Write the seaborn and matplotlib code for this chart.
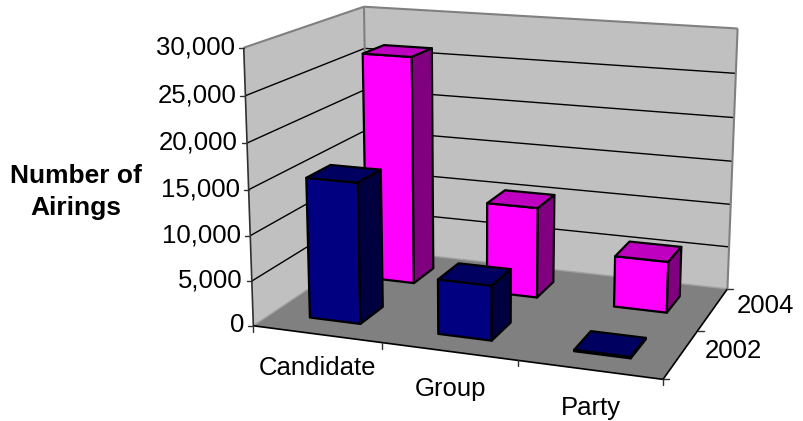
import numpy as np
import matplotlib
matplotlib.use("Agg")
import matplotlib.pyplot as plt
from matplotlib.patches import Polygon
import seaborn as sns

# Airings by sponsor type and election year
categories = ["Candidate", "Group", "Party"]
years = ["2002", "2004"]
airings_2002 = [15600, 6000, 150]
airings_2004 = [26400, 10400, 5800]
value_ticks = [0, 5000, 10000, 15000, 20000, 25000, 30000]
y_title = "Number of\nAirings"

VALUE_MAX = 30000
GAP = 1.5  # gap width and depth, as a multiple of the bar size

# Where the corners of the plot box land on the canvas (x, depth, height) -> (px, py)
box_corners = [
    ((0, 0, 0), (255, 324)),
    ((1, 0, 0), (663, 381)),
    ((0, 1, 0), (366, 251)),
    ((1, 1, 0), (728, 287)),
    ((0, 0, 1), (242, 48)),
    ((0, 1, 1), (366, 6)),
    ((1, 1, 1), (737, 29)),
]

# Extra drop of each category label below the floor edge
label_drop = [34, 38, 38]


def fit_camera(pairs):
    """Least-squares perspective camera from box corners to canvas pixels."""
    rows, rhs = [], []
    for (x, y, z), (u, v) in pairs:
        rows.append([x, y, z, 1, 0, 0, 0, 0, -u * x, -u * y, -u * z])
        rhs.append(u)
        rows.append([0, 0, 0, 0, x, y, z, 1, -v * x, -v * y, -v * z])
        rhs.append(v)
    sol = np.linalg.lstsq(np.array(rows, float), np.array(rhs, float), rcond=None)[0]
    return np.append(sol, 1.0).reshape(3, 4)


CAMERA = fit_camera(box_corners)


def project(x, y, z):
    """Map box coordinates to canvas pixels."""
    p = CAMERA @ np.array([x, y, z, 1.0])
    return p[0] / p[2], p[1] / p[2]


def cat_pos(i):
    return i / len(categories)


def year_pos(j):
    return j / len(years)


def height(v):
    return v / VALUE_MAX


sns.set_theme(style="white", rc={"font.family": ["Liberation Sans", "DejaVu Sans"]})
wall_colors = sns.color_palette(["#C0C0C0", "#808080"])
bar_faces = {
    "2002": sns.color_palette(["#000080", "#000060", "#000040"]),
    "2004": sns.color_palette(["#FF00FF", "#C000C0", "#800080"]),
}

fig = plt.figure(figsize=(8.04, 4.21), dpi=100, facecolor="white")
ax = fig.add_axes([0, 0, 1, 1])
ax.set_xlim(0, 804)
ax.set_ylim(421, 0)
ax.axis("off")


def face(corners, color, edge="black", lw=1.6, z=1):
    ax.add_patch(Polygon([project(*c) for c in corners], closed=True, facecolor=color,
                         edgecolor=edge, linewidth=lw, joinstyle="round", zorder=z))


def segment(a, b, color="black", lw=1.0, z=2):
    pa, pb = project(*a), project(*b)
    ax.plot([pa[0], pb[0]], [pa[1], pb[1]], color=color, lw=lw, zorder=z,
            solid_capstyle="butt")


# Walls and floor
face([(0, 0, 0), (0, 1, 0), (0, 1, 1), (0, 0, 1)], wall_colors[0], edge="none", lw=0)
face([(0, 1, 0), (1, 1, 0), (1, 1, 1), (0, 1, 1)], wall_colors[0], edge="none", lw=0)
face([(0, 0, 0), (1, 0, 0), (1, 1, 0), (0, 1, 0)], wall_colors[1], edge="none", lw=0)

# Gridlines across both walls
for v in value_ticks[1:-1]:
    h = height(v)
    segment((0, 0, h), (0, 1, h))
    segment((0, 1, h), (1, 1, h))

# Wall outlines
gray = "#808080"
segment((0, 0, 1), (0, 1, 1), color=gray, lw=1.5)
segment((0, 1, 1), (1, 1, 1), color=gray, lw=1.5)
segment((0, 1, 0), (0, 1, 1), color=gray, lw=1.5)
segment((1, 1, 0), (1, 1, 1), color=gray, lw=1.5)
segment((0, 1, 0), (1, 1, 0), color="#A0A0A0", lw=1.0)
segment((0, 0, 0), (0, 1, 0), color="#A0A0A0", lw=1.0)

# Axis lines
segment((0, 0, 0), (0, 0, 1), color="#303030", lw=1.2, z=3)
segment((0, 0, 0), (1, 0, 0), lw=1.2, z=3)
segment((1, 0, 0), (1, 1, 0), lw=1.2, z=3)

# Value axis ticks and labels
for v in value_ticks:
    px, py = project(0, 0, height(v))
    ax.plot([px - 5, px], [py, py], color="#303030", lw=1.0, zorder=3)
    ax.text(px - 9, py - 0.5, f"{v:,}", ha="right", va="center", fontsize=18.5, color="black")

# Category axis ticks and labels
for i in range(len(categories) + 1):
    px, py = project(cat_pos(i), 0, 0)
    ax.plot([px, px], [py, py + 6], color="#303030", lw=1.0, zorder=3)
for i, name in enumerate(categories):
    px, py = project(cat_pos(i + 0.5), 0, 0)
    ax.text(px + 1, py + label_drop[i], name, ha="center", va="center", fontsize=18.5,
            color="black")

# Depth axis ticks and labels
for j in range(len(years) + 1):
    px, py = project(1, year_pos(j), 0)
    ax.plot([px, px + 6], [py, py], color="#303030", lw=1.0, zorder=3)
for j, name in enumerate(years):
    px, py = project(1, year_pos(j + 0.5), 0)
    ax.text(px + 24, py - 3, name, ha="left", va="center", fontsize=18.5, color="black")

ax.text(76, 192, y_title, ha="center", va="center", fontsize=19, fontweight="bold",
        color="black", linespacing=1.45)

# Bars, farthest row first so nearer bars overlap them
bar_frac = 1 / (1 + GAP)
pad = (1 - bar_frac) / 2
series = {"2002": airings_2002, "2004": airings_2004}
for j in reversed(range(len(years))):
    front_c, top_c, side_c = bar_faces[years[j]]
    y0, y1 = year_pos(j + pad), year_pos(j + 1 - pad)
    for i, value in enumerate(series[years[j]]):
        x0, x1 = cat_pos(i + pad), cat_pos(i + 1 - pad)
        h = height(value)
        z = 10 + (len(years) - j) * 10 + i
        face([(x0, y0, 0), (x1, y0, 0), (x1, y0, h), (x0, y0, h)], front_c, z=z)
        face([(x0, y0, h), (x1, y0, h), (x1, y1, h), (x0, y1, h)], top_c, z=z)
        face([(x1, y0, 0), (x1, y1, 0), (x1, y1, h), (x1, y0, h)], side_c, z=z)

fig.savefig("out.png", dpi=100, facecolor="white")
